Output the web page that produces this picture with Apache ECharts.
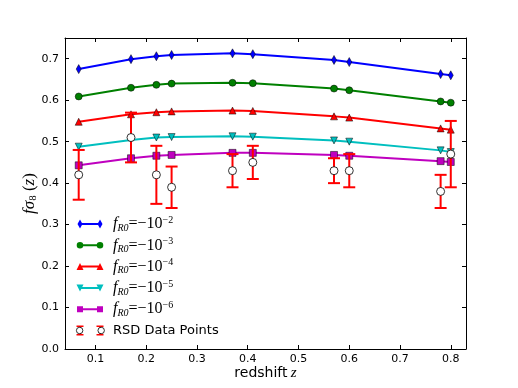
<!DOCTYPE html>
<html>
<head>
<meta charset="UTF-8">
<title>fsigma8 vs redshift</title>
<script src="https://cdn.jsdelivr.net/npm/echarts@6/dist/echarts.min.js"></script>
<style>html, body { margin: 0; padding: 0; background: #fff; }</style>
</head>
<body>
<div id="main" style="width: 518px; height: 388px;"></div>
<script type="text/javascript">
// redshifts where the models are evaluated
var redshift = [0.067, 0.17, 0.22, 0.25, 0.37, 0.41, 0.57, 0.6, 0.78, 0.8];
// f sigma8 for each f_R0
var fR0_2 = [0.675, 0.699, 0.706, 0.709, 0.713, 0.711, 0.697, 0.692, 0.663, 0.660];
var fR0_3 = [0.609, 0.630, 0.637, 0.640, 0.642, 0.641, 0.628, 0.624, 0.597, 0.594];
var fR0_4 = [0.548, 0.566, 0.571, 0.573, 0.575, 0.574, 0.561, 0.558, 0.532, 0.529];
var fR0_5 = [0.488, 0.504, 0.510, 0.511, 0.513, 0.512, 0.503, 0.500, 0.479, 0.475];
var fR0_6 = [0.443, 0.460, 0.466, 0.468, 0.473, 0.473, 0.468, 0.466, 0.453, 0.451];
// RSD measurements
var rsdZ   = [0.067, 0.17, 0.22, 0.25, 0.37, 0.41, 0.57, 0.6, 0.78, 0.8];
var rsdVal = [0.42, 0.51, 0.42, 0.39, 0.43, 0.45, 0.43, 0.43, 0.38, 0.47];
var rsdErr = [0.06, 0.06, 0.07, 0.05, 0.04, 0.04, 0.03, 0.04, 0.04, 0.08];
// ticks
var xTicks = [0.1, 0.2, 0.3, 0.4, 0.5, 0.6, 0.7, 0.8];
var yTicks = [0.0, 0.1, 0.2, 0.3, 0.4, 0.5, 0.6, 0.7];

var myChart = echarts.init(document.getElementById('main'));

// legend icons: a line with a marker on each end, 28x10 box
var specks = 'M0,0 L0.01,0 L0,0.01 Z M28,10 L27.99,10 L28,9.99 Z ';
var bar = 'M4,4 L24,4 L24,6 L4,6 Z ';
function two(f) { return f(4) + ' ' + f(24); }
var icons = {
  diamond: 'path://' + specks + bar + two(function (c) {
    return 'M' + (c - 2.5) + ',5 L' + c + ',0.5 L' + (c + 2.5) + ',5 L' + c + ',9.5 Z';
  }),
  circle: 'path://' + specks + bar + two(function (c) {
    return 'M' + (c - 3.3) + ',5 A3.3,3.3 0 1 1 ' + (c + 3.3) + ',5 A3.3,3.3 0 1 1 ' + (c - 3.3) + ',5 Z';
  }),
  up: 'path://' + specks + bar + two(function (c) {
    return 'M' + (c - 3.5) + ',8.5 L' + c + ',1.5 L' + (c + 3.5) + ',8.5 Z';
  }),
  down: 'path://' + specks + bar + two(function (c) {
    return 'M' + (c - 3.5) + ',1.5 L' + (c + 3.5) + ',1.5 L' + c + ',8.5 Z';
  }),
  square: 'path://' + specks + bar + two(function (c) {
    return 'M' + (c - 3) + ',2 L' + (c + 3) + ',2 L' + (c + 3) + ',8 L' + (c - 3) + ',8 Z';
  }),
  errbar: 'path://' + specks + two(function (c) {
    return 'M' + (c - 3.5) + ',0 L' + (c + 3.5) + ',0 L' + (c + 3.5) + ',1.5 L' + (c - 3.5) + ',1.5 Z ' +
      'M' + (c - 0.9) + ',0 L' + (c + 0.9) + ',0 L' + (c + 0.9) + ',10 L' + (c - 0.9) + ',10 Z ' +
      'M' + (c - 3.5) + ',8.5 L' + (c + 3.5) + ',8.5 L' + (c + 3.5) + ',10 L' + (c - 3.5) + ',10 Z';
  }),
  rings: 'path://M0.5,3.5 A3,3 0 1 1 6.5,3.5 A3,3 0 1 1 0.5,3.5 Z M20.5,3.5 A3,3 0 1 1 26.5,3.5 A3,3 0 1 1 20.5,3.5 Z'
};

var models = [
  {name: 'fR0_2', exp: '2', vals: fR0_2, color: '#0000ff', symbol: 'path://M0,-1 L0.55,0 L0,1 L-0.55,0 Z', size: [5, 9], icon: icons.diamond},
  {name: 'fR0_3', exp: '3', vals: fR0_3, color: '#008000', symbol: 'circle', size: 7, icon: icons.circle},
  {name: 'fR0_4', exp: '4', vals: fR0_4, color: '#ff0000', symbol: 'triangle', size: 7, icon: icons.up},
  {name: 'fR0_5', exp: '5', vals: fR0_5, color: '#00bfbf', symbol: 'path://M-1,-1 L1,-1 L0,1 Z', size: 7, icon: icons.down},
  {name: 'fR0_6', exp: '6', vals: fR0_6, color: '#bf00bf', symbol: 'rect', size: 7, icon: icons.square}
];

var series = models.map(function (m) {
  return {
    name: m.name,
    type: 'line',
    data: redshift.map(function (z, i) { return [z, m.vals[i]]; }),
    symbol: m.symbol,
    symbolSize: m.size,
    showSymbol: true,
    lineStyle: {color: m.color, width: 2},
    itemStyle: {color: m.color, borderColor: '#000', borderWidth: 0.5},
    z: 2
  };
});

series.push({
  name: 'RSD Data Points',
  type: 'custom',
  data: rsdZ.map(function (z, i) { return [z, rsdVal[i], rsdErr[i]]; }),
  encode: {x: 0, y: 1},
  itemStyle: {color: '#ff0000'},
  z: 3,
  renderItem: function (params, api) {
    var x = api.value(0), v = api.value(1), e = api.value(2);
    var top = api.coord([x, v + e]);
    var bot = api.coord([x, v - e]);
    var w = 6;
    var st = {stroke: '#ff0000', lineWidth: 2};
    return {
      type: 'group',
      children: [
        {type: 'line', shape: {x1: top[0], y1: top[1], x2: bot[0], y2: bot[1]}, style: st},
        {type: 'line', shape: {x1: top[0] - w, y1: top[1], x2: top[0] + w, y2: top[1]}, style: st},
        {type: 'line', shape: {x1: bot[0] - w, y1: bot[1], x2: bot[0] + w, y2: bot[1]}, style: st}
      ]
    };
  }
});

series.push({
  name: 'RSD circles',
  type: 'scatter',
  data: rsdZ.map(function (z, i) { return [z, rsdVal[i]]; }),
  symbol: 'circle',
  symbolSize: 8,
  itemStyle: {color: '#ffffff', borderColor: '#000', borderWidth: 0.8, opacity: 1},
  z: 5
});

var serif = 'Liberation Serif';
var legendRich = {
  f: {fontFamily: serif, fontStyle: 'italic', fontSize: 16, lineHeight: 18, color: '#000'},
  sub: {fontFamily: serif, fontStyle: 'italic', fontSize: 10, lineHeight: 10, verticalAlign: 'bottom', color: '#000'},
  eq: {fontFamily: serif, fontSize: 16, lineHeight: 18, color: '#000'},
  sup: {fontFamily: serif, fontSize: 10, lineHeight: 10, verticalAlign: 'top', color: '#000'}
};

var legendTop = 215, rowStep = 21.3;
var legendData = models.map(function (m) { return {name: m.name, icon: m.icon}; });
legendData.push({name: 'RSD Data Points', icon: icons.errbar});

var frame = {show: true, onZero: false, lineStyle: {color: '#000', width: 1}};

var option = {
  animation: false,
  grid: {left: 65, right: 52, top: 38, bottom: 39, containLabel: false},
  legend: [
    {
      orient: 'vertical',
      left: 76,
      top: legendTop,
      padding: 0,
      itemGap: rowStep - 18,
      itemWidth: 28,
      itemHeight: 10,
      itemStyle: {borderWidth: 0},
      data: legendData,
      formatter: function (name) {
        var m = models.filter(function (d) { return d.name === name; })[0];
        if (m) return '{f|f}{sub|R0}{eq|=−10}{sup|−' + m.exp + '}';
        return name;
      },
      textStyle: {fontFamily: 'DejaVu Sans', fontSize: 13, color: '#000', lineHeight: 18, padding: [0, 0, 0, 4], rich: legendRich}
    },
    {
      orient: 'vertical',
      left: 76,
      top: legendTop + 5 * rowStep,
      padding: 0,
      z: 10,
      itemWidth: 28,
      itemHeight: 7,
      data: [{name: 'RSD circles', icon: icons.rings, itemStyle: {color: '#ffffff', borderColor: '#000', borderWidth: 0.8}}],
      formatter: function () { return ' '; },
      textStyle: {fontSize: 13, lineHeight: 18}
    }
  ],
  xAxis: [
    {
      type: 'value', position: 'bottom', min: 0.04, max: 0.83,
      name: '{t|redshift} {z|z}', nameLocation: 'middle', nameGap: 17, nameMoveOverlap: false,
      nameTextStyle: {rich: {
        t: {fontFamily: 'DejaVu Sans', fontSize: 14, color: '#000'},
        z: {fontFamily: serif, fontStyle: 'italic', fontSize: 15, color: '#000'}
      }},
      axisLine: frame,
      axisTick: {inside: true, length: 4, lineStyle: {color: '#000'}, customValues: xTicks},
      axisLabel: {customValues: xTicks, formatter: function (v) { return v.toFixed(1); },
        fontFamily: 'DejaVu Sans', fontSize: 11, color: '#000', margin: 5},
      splitLine: {show: false}
    },
    {
      type: 'value', position: 'top', min: 0.04, max: 0.83,
      axisLine: frame,
      axisTick: {inside: true, length: 4, lineStyle: {color: '#000'}, customValues: xTicks},
      axisLabel: {show: false},
      splitLine: {show: false}
    }
  ],
  yAxis: [
    {
      type: 'value', position: 'left', min: 0, max: 0.75,
      name: '{f|fσ}{s|8}{p| (}{f|z}{p|)}', nameLocation: 'middle', nameGap: 26, nameRotate: 90,
      nameMoveOverlap: false,
      nameTextStyle: {rich: {
        f: {fontFamily: serif, fontStyle: 'italic', fontSize: 17, lineHeight: 18, color: '#000'},
        s: {fontFamily: serif, fontSize: 11, lineHeight: 9, verticalAlign: 'bottom', color: '#000'},
        p: {fontFamily: serif, fontSize: 17, lineHeight: 18, color: '#000'}
      }},
      axisLine: frame,
      axisTick: {inside: true, length: 4, lineStyle: {color: '#000'}, customValues: yTicks},
      axisLabel: {customValues: yTicks, formatter: function (v) { return v.toFixed(1); },
        fontFamily: 'DejaVu Sans', fontSize: 11, color: '#000', margin: 6},
      splitLine: {show: false}
    },
    {
      type: 'value', position: 'right', min: 0, max: 0.75,
      axisLine: frame,
      axisTick: {inside: true, length: 4, lineStyle: {color: '#000'}, customValues: yTicks},
      axisLabel: {show: false},
      splitLine: {show: false}
    }
  ],
  series: series
};

myChart.setOption(option);
</script>
</body>
</html>
